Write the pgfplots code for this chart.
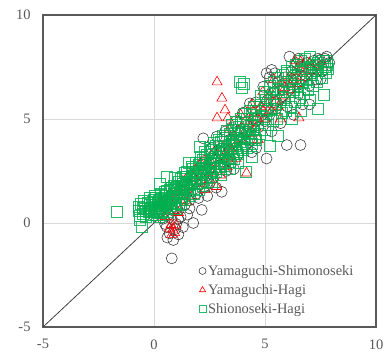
\documentclass[border=0pt]{standalone}
\usepackage{pgfplots}
\pgfplotsset{compat=1.18}
\usepackage{fontspec}
\setmainfont{Liberation Serif}
\definecolor{txt}{HTML}{595959}
\definecolor{grd}{HTML}{D9D9D9}
\definecolor{circ}{HTML}{404040}
\definecolor{tri}{HTML}{FF0000}
\definecolor{sq}{HTML}{00B050}
\begin{document}
\begin{tikzpicture}
\begin{axis}[
  scale only axis, width=333bp, height=312bp,
  xmin=-5, xmax=10, ymin=-5, ymax=10,
  xtick={-5,0,5,10}, ytick={-5,0,5,10},
  grid=major, major grid style={draw=grd, line width=0.8pt},
  axis line style={draw=txt, line width=1.1pt},
  major tick length=0pt,
  /pgf/number format/assume math mode=true,
  ticklabel style={font=\fontsize{14.5}{17}\selectfont, text=txt},
  xticklabel style={yshift=-9pt},
  yticklabel style={xshift=-9pt},
  legend style={at={(0.468,0.205)}, anchor=north west, draw=none, fill=none,
    font=\fontsize{14.5}{17}\selectfont, text=txt, row sep=3.5pt, inner sep=0pt},
  legend cell align=left,
  legend image code/.code={\draw[mark repeat=2,mark phase=2,#1] plot coordinates {(0cm,0cm) (0.12cm,0cm) (0.24cm,0cm)};},
  legend image post style={mark size=3.5pt},
]
\addplot[forget plot, draw=circ, line width=0.8pt, no marks] coordinates {(-5,-5) (10,10)};

\addplot[only marks, mark=o, mark size=5.5pt, mark options={draw=circ, line width=0.6pt}] coordinates {
(0.8,-1.7) (0.57,-0.18) (0.87,-0.82) (0.7,-0.5) (0.95,-0.3) (1.1,-0.55) (0.6,-0.7) (1.3,-0.2) (1.77,0.0) (2.15,0.63)
(0.4,0.2) (0.5,-0.05) (1.0,-0.05) (1.2,0.3) (1.5,0.4) (0.2,0.5) (0.0,0.35) (-0.2,0.6) (0.3,0.9) (0.65,0.4) (0.85,0.6) (1.05,0.7)
(1.3,1.2) (1.4,1.6) (1.6,1.1) (1.6,2.2) (1.8,1.9) (1.9,1.4) (2.0,2.5) (2.22,4.07) (2.1,2.1) (2.3,3.0) (2.3,1.7) (2.5,2.6)
(2.6,3.6) (2.82,4.15) (2.7,2.2) (2.8,3.1) (3.05,1.5) (3.0,2.8) (3.1,3.7) (3.2,4.4) (3.25,2.5) (3.4,3.5) (3.5,4.6) (3.5,2.9)
(3.6,3.9) (3.7,4.9) (3.8,3.3) (3.9,4.4) (4.0,5.3) (4.1,3.7) (4.2,4.7) (4.32,5.75) (4.4,4.0) (4.5,5.0) (4.6,5.8) (4.6,3.6)
(4.7,4.6) (4.8,5.4) (4.92,6.55) (5.07,3.1) (5.0,4.9) (5.07,7.2) (5.1,5.9) (5.2,5.2) (5.3,7.36) (5.3,4.4) (5.4,6.3) (5.5,5.5)
(5.6,6.8) (5.7,4.8) (5.8,6.1) (5.98,3.75) (6.6,3.75) (5.9,7.0) (6.0,5.6) (6.1,6.5) (6.2,7.3) (6.3,5.2) (6.43,7.68) (6.4,6.9)
(6.5,6.2) (6.6,7.5) (6.7,5.7) (6.8,7.1) (6.9,7.7) (7.0,6.6) (7.1,7.4) (7.2,7.8) (7.3,6.9) (7.4,7.6) (7.48,7.84) (7.6,7.3)
(7.7,7.9) (7.78,8.0) (7.9,7.7) (7.5,6.9) (7.0,5.7) (6.1,8.0) (6.5,7.9) (5.2,7.0) (5.45,7.2)
(1.0,1.0) (1.2,1.5) (1.5,1.8) (2.4,2.3) (2.9,3.5) (3.3,3.0) (0.8,0.2) (1.4,0.9) (2.0,1.2) (2.5,1.9)
(0.3,0.6) (0.6,1.1) (1.0,1.6) (1.4,2.0) (1.8,2.5) (2.2,2.8) (2.6,3.1) (3.0,3.4) (3.4,4.0) (3.8,4.1) (4.2,4.4) (4.6,4.9)
(5.0,5.4) (5.4,5.8) (5.8,6.4) (6.2,6.8) (6.6,7.1) (7.0,7.4) (7.4,7.9) (1.1,0.2) (1.6,0.7) (2.4,1.3) (2.8,1.7) (3.6,2.6) (4.4,3.4)
};
\addlegendentry{Yamaguchi-Shimonoseki}

\addplot[only marks, mark=triangle, mark size=5.8pt, mark options={draw=tri, line width=0.6pt}] coordinates {
(2.84,6.78) (3.06,6.0) (3.2,5.43) (2.84,5.05) (3.33,5.05) (6.53,5.05) (4.17,2.4) (2.82,1.75)
(0.7,-0.25) (0.77,-0.08) (0.93,-0.47) (0.85,-0.3) (1.0,-0.1) (0.8,-0.55)
(0.2,0.7) (0.4,0.9) (0.6,0.8) (0.8,1.2) (1.0,1.3) (1.2,1.1) (1.4,1.6) (1.6,1.8) (1.8,2.2) (2.0,1.9)
(2.2,2.5) (2.4,2.8) (2.6,2.4) (2.7,3.4) (2.9,3.0) (3.1,3.6) (3.3,3.2) (3.5,4.1) (3.6,3.6) (3.8,4.4)
(4.0,3.9) (4.1,4.9) (4.3,4.3) (4.5,5.3) (4.6,4.6) (4.8,5.6) (5.0,5.0) (5.2,6.1) (5.3,5.4) (5.5,6.3)
(5.6,5.6) (5.8,6.7) (5.9,6.1) (6.1,7.0) (6.2,6.4) (6.4,7.3) (6.5,6.7) (6.7,7.6) (6.8,7.0) (7.0,7.7)
(7.2,7.3) (7.4,7.5) (7.6,7.6) (6.35,7.8) (6.6,7.75) (4.9,6.3) (5.4,6.9) (3.9,5.2) (4.4,5.7) (1.1,0.5)
(1.5,1.0) (2.3,1.6) (3.0,2.3) (3.7,3.1) (4.7,4.0) (5.7,5.0) (0.5,0.3) (1.3,2.0) (2.1,2.9) (3.4,4.5)
(0.3,1.0) (0.7,1.4) (1.1,1.7) (1.5,2.2) (1.9,2.6) (2.3,3.0) (2.7,2.9) (3.1,3.1) (3.5,3.5) (3.9,4.0) (4.3,4.8)
(4.7,5.0) (5.1,5.7) (5.5,5.9) (5.9,6.5) (6.3,6.9) (6.7,7.2) (7.1,7.5) (0.9,0.6) (1.7,1.3) (2.5,2.1) (3.3,2.7)
};
\addlegendentry{Yamaguchi-Hagi}

\addplot[only marks, mark=square, mark size=5.5pt, mark options={draw=sq, draw opacity=0.85, line width=0.7pt}] coordinates {
(-1.68,0.54) (-0.63,0.14) (-0.55,-0.18) (-0.7,0.6) (-0.6,0.9) (-0.5,0.45) (-0.45,1.05) (-0.4,0.7) (-0.35,0.3) (-0.3,0.95)
(-0.25,0.55) (-0.2,1.2) (-0.15,0.75) (-0.1,0.4) (-0.05,1.0) (0,0.65) (0.05,1.3) (0.1,0.85) (0.15,0.5) (0.2,1.1)
(0.25,0.7) (0.3,1.4) (0.35,0.95) (0.4,0.6) (0.45,1.2) (0.5,0.85) (-0.7,0.78) (0.27,1.9) (0.59,2.2) (1.55,2.87) (0.95,2.15)
(0.55,1.0) (0.6,0.55) (0.6,1.55) (0.7,1.3) (0.75,0.8) (0.8,1.7) (0.9,1.4) (0.95,0.95) (1.0,1.2) (1.05,1.75) (1.1,0.9)
(1.2,1.6) (1.2,2.1) (1.25,1.2) (1.3,1.9) (1.35,1.45) (1.4,2.4) (1.5,1.7) (1.5,2.2) (1.6,1.3) (1.7,2.1) (1.75,2.6) (1.8,1.65)
(1.9,2.3) (1.95,1.9) (2.0,2.8) (2.07,3.67) (2.1,2.4) (2.15,1.95) (2.2,3.05) (2.3,2.6) (2.35,2.15) (2.4,3.3)
(2.5,2.9) (2.55,2.4) (2.6,3.5) (2.6,2.0) (2.7,3.0) (2.75,2.6) (2.8,3.7) (2.9,3.2) (2.95,2.7) (3.0,3.9) (3.0,2.3)
(3.1,3.4) (3.15,2.9) (3.2,4.1) (3.3,3.5) (3.35,3.1) (3.4,4.3) (3.4,2.6) (3.5,3.8) (3.55,3.3) (3.6,4.5)
(3.7,4.0) (3.75,3.4) (3.8,4.6) (3.8,2.9) (3.9,4.1) (3.95,3.6) (4.0,4.8) (4.1,4.4) (4.15,2.47) (4.2,3.8) (4.2,5.0)
(4.3,4.5) (4.35,4.0) (4.4,5.2) (4.4,3.2) (4.5,4.7) (4.55,4.1) (4.6,5.4) (3.87,6.8) (4.05,6.7) (3.95,6.5)
(4.7,5.0) (4.75,4.3) (4.8,5.7) (4.9,5.1) (5.0,4.5) (5.05,5.9) (5.1,5.4) (5.15,4.7) (5.2,6.0) (5.2,3.7)
(5.3,5.5) (5.35,4.9) (5.4,6.2) (5.5,5.7) (5.55,5.0) (5.6,6.4) (5.6,4.2) (5.7,5.9) (5.75,5.3) (5.8,6.6) (5.98,7.2)
(5.9,6.0) (5.95,5.4) (6.0,6.8) (6.1,6.3) (6.15,5.6) (6.2,7.0) (6.2,5.0) (6.3,6.4) (6.35,5.8) (6.4,7.1)
(6.5,6.6) (6.55,6.0) (6.6,7.3) (6.6,5.4) (6.7,6.8) (6.75,6.2) (6.8,7.4) (6.9,6.9) (6.95,6.4) (7.0,7.5) (7.0,5.9)
(7.1,7.1) (7.15,6.6) (7.2,7.6) (7.3,7.3) (7.35,6.8) (7.4,5.5) (7.4,7.7) (7.5,7.4) (7.55,7.0) (7.63,6.15) (7.6,7.8)
(7.7,7.5) (7.75,7.2) (7.8,7.8) (7.85,7.4)
(0.05,0.7) (0.15,0.95) (0.25,1.05) (0.35,0.75) (0.45,0.95) (0.55,1.3) (0.65,1.1) (0.75,1.05) (0.85,1.25) (0.95,1.6)
(1.05,1.4) (1.15,1.5) (1.25,1.8) (1.35,1.7) (1.45,1.85) (1.55,2.0) (1.65,1.9) (1.75,2.25) (1.85,2.1) (1.95,2.45)
(2.05,2.3) (2.15,2.6) (2.25,2.5) (2.35,2.8) (2.45,2.65) (2.55,3.0) (2.65,2.85) (2.75,3.2) (2.85,3.0) (2.95,3.35)
(3.05,3.2) (3.15,3.55) (3.25,3.35) (3.35,3.7) (3.45,3.55) (3.55,3.9) (3.65,3.7) (3.75,4.1) (3.85,3.9) (3.95,4.3)
(4.05,4.1) (4.15,4.5) (4.25,4.3) (4.35,4.65) (4.45,4.5)
(-0.65,0.35) (-0.5,0.75) (-0.35,0.6) (-0.2,0.85) (-0.1,0.6) (0.0,1.1) (0.1,0.55) (0.2,0.8) (0.3,0.5) (0.4,1.0)
(0.1,1.2) (0.3,1.15) (0.5,1.5) (0.7,1.6) (0.9,1.8) (1.1,2.0) (1.3,2.2) (1.5,2.45) (1.7,2.7) (1.9,2.9) (2.1,3.2) (2.3,3.4)
(2.5,3.6) (2.7,3.85) (2.9,4.0) (3.1,4.2) (3.3,4.45) (3.5,4.7) (3.7,4.85) (3.9,5.0) (4.1,5.25) (4.3,5.4) (4.5,5.6)
(0.2,0.3) (0.4,0.4) (0.6,0.75) (0.8,0.9) (1.0,0.7) (1.2,0.85) (1.4,1.1) (1.6,1.55) (1.8,1.4) (2.0,1.6) (2.2,1.8) (2.4,2.0)
(2.6,2.2) (2.8,2.45) (3.0,2.6) (3.2,2.75) (3.4,2.95) (3.6,3.1) (3.8,3.3) (4.0,3.5) (4.2,3.6) (4.4,3.8) (4.6,4.0)
(4.8,6.1) (5.0,6.3) (5.2,6.6) (5.4,6.8) (5.6,7.0) (5.8,7.1) (6.0,7.3) (6.2,7.5) (6.4,7.6) (6.6,7.8) (6.8,7.9) (7.0,8.0)
(5.0,5.5) (5.4,5.9) (5.8,6.3) (6.2,6.7) (6.6,7.0) (7.0,7.2) (7.4,7.3) (7.8,7.6)
};
\addlegendentry{Shionoseki-Hagi}
\end{axis}
\path (current axis.south west) +(-43bp,-25bp) (current axis.north east) +(14bp,15bp);
\end{tikzpicture}
\end{document}
